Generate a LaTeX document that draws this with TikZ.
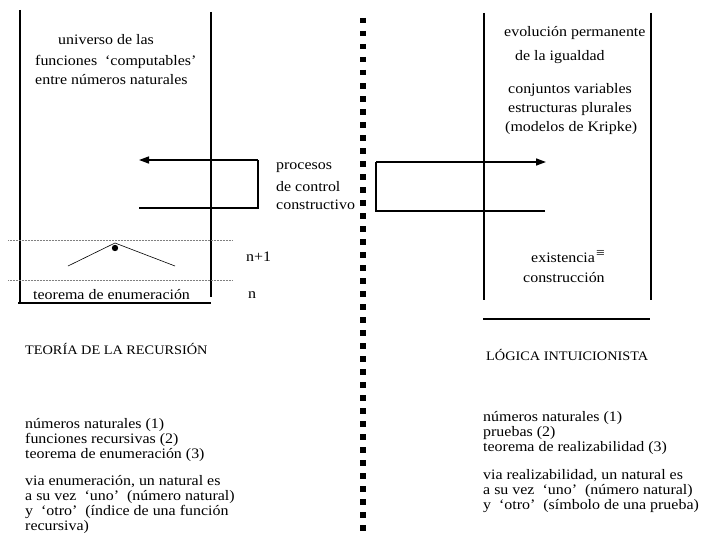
\documentclass[tikz,border=0pt]{standalone}
\usepackage{fontspec}
\setmainfont[FakeStretch=1.1]{Liberation Serif}
\usetikzlibrary{arrows.meta}
\begin{document}
\begin{tikzpicture}[x=1pt,y=-1pt,
  txt/.style={anchor=west,inner sep=0pt,font=\fontsize{14.5}{15}\selectfont},
  head/.style={anchor=west,inner sep=0pt,font=\fontsize{13}{14}\selectfont},
  wall/.style={line width=1.1pt},
  flow/.style={line width=1.5pt},
  tip/.style={-{Triangle[length=10pt,width=7pt]}},
  guide/.style={gray,line width=0.5pt,densely dotted},
  sep/.style={line width=5.5pt,dash pattern=on 5.5pt off 7.5pt}]
\useasboundingbox (0,0) rectangle (704,543);
% left box
\coordinate (LTL) at (20,10);  \coordinate (LBL) at (20,303);
\coordinate (LTR) at (211,12); \coordinate (LBR) at (211,297);
\draw[wall] (LTL) -- (LBL);
\draw[wall] (LTR) -- (LBR);
\draw[line width=2pt] (18,303) -- (211,303);
% right box
\coordinate (RTL) at (484,13); \coordinate (RBL) at (484,300);
\coordinate (RTR) at (651,13); \coordinate (RBR) at (651,300);
\draw[wall] (RTL) -- (RBL);
\draw[wall] (RTR) -- (RBR);
\draw[line width=1.2pt] (483,319) -- (650,319);
% separator
\coordinate (S1) at (363,18); \coordinate (S2) at (363,531);
\draw[sep] (S1) -- (S2);
% guide lines
\draw[guide] (8,240) -- (233,240);
\draw[guide] (8,280) -- (233,280);
% triangle and dot
\coordinate (apex) at (115,243);
\draw[line width=0.6pt] (68,266) -- (apex) -- (175,266);
\fill (115,248) circle (3.2pt);
% left loop
\coordinate (LA) at (258,160); \coordinate (LB) at (258,208);
\coordinate (LAe) at (139,160); \coordinate (LBe) at (139,208);
\draw[flow] (LBe) -- (LB) -- (LA);
\draw[flow,tip] (LA) -- (LAe);
% right loop
\coordinate (RA) at (376,162); \coordinate (RB) at (376,211);
\coordinate (RAe) at (546,162); \coordinate (RBe) at (545,211);
\draw[flow] (RBe) -- (RB) -- (RA);
\draw[flow,tip] (RA) -- (RAe);
% left box texts
\node[txt] (u1) at (58,40) {universo de las};
\node[txt] (u2) at (35,62) {funciones\ \ ‘computables’};
\node[txt] (u3) at (35,80) {entre números naturales};
\node[txt] (te) at (33,295) {teorema de enumeración};
\node[txt] (n1) at (246,257) {n+1};
\node[txt] (n0) at (248,295) {n};
% middle
\node[txt] (p1) at (276,168) {procesos};
\node[txt] (p2) at (276,187) {de control};
\node[txt] (p3) at (276,205) {constructivo};
% right box texts
\node[txt] (e1) at (504,33) {evolución permanente};
\node[txt] (e2) at (515,57) {de la igualdad};
\node[txt] (c1) at (508,90) {conjuntos variables};
\node[txt] (c2) at (508,109) {estructuras plurales};
\node[txt] (c3) at (505,128) {(modelos de Kripke)};
\node[txt] (x1) at (531,258) {existencia};
\node[anchor=west,inner sep=0pt,font=\fontsize{14}{14}\selectfont] (eq) at (596,254) {≡};
\node[txt] (x2) at (523,278) {construcción};
% bottom left
\node[head] (h1) at (25,349) {TEORÍA DE LA RECURSIÓN};
\node[txt] (a1) at (25,425) {números naturales (1)};
\node[txt] (a2) at (25,440) {funciones recursivas (2)};
\node[txt] (a3) at (25,455) {teorema de enumeración (3)};
\node[txt] (a4) at (25,482) {via enumeración, un natural es};
\node[txt] (a5) at (25,497) {a su vez\ \ ‘uno’\ \ (número natural)};
\node[txt] (a6) at (25,512) {y\ \ ‘otro’\ \ (índice de una función};
\node[txt] (a7) at (25,527) {recursiva)};
% bottom right
\node[head] (h2) at (486,355) {LÓGICA INTUICIONISTA};
\node[txt] (b1) at (483,418) {números naturales (1)};
\node[txt] (b2) at (483,433) {pruebas (2)};
\node[txt] (b3) at (483,448) {teorema de realizabilidad (3)};
\node[txt] (b4) at (483,476) {via realizabilidad, un natural es};
\node[txt] (b5) at (483,491) {a su vez\ \ ‘uno’\ \ (número natural)};
\node[txt] (b6) at (483,506) {y\ \ ‘otro’\ \ (símbolo de una prueba)};
\end{tikzpicture}
\end{document}
